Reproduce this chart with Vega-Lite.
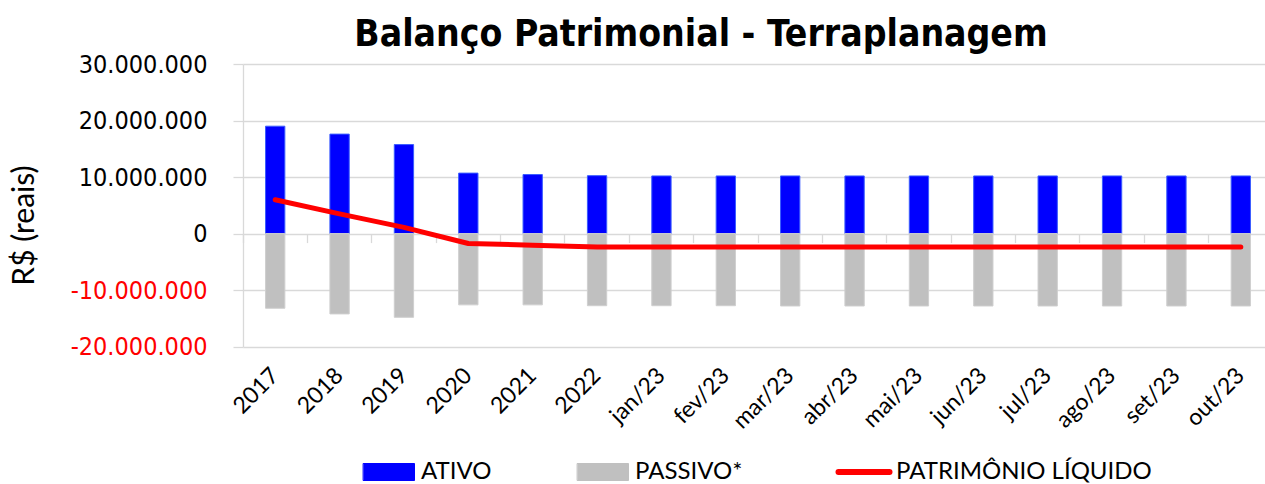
{
  "$schema": "https://vega.github.io/schema/vega-lite/v6.json",
  "width": 1022,
  "height": 282.7,
  "autosize": {"type": "none"},
  "padding": {"left": 243, "top": 64, "right": 0, "bottom": 137.3},
  "background": "white",
  "title": {
    "text": "Balanço Patrimonial - Terraplanagem",
    "font": "DejaVu Sans Condensed",
    "fontSize": 37,
    "fontWeight": "bold",
    "color": "#000000",
    "anchor": "middle",
    "frame": "group",
    "dx": -53,
    "offset": -2
  },
  "config": {
    "view": {"stroke": null},
    "locale": {
      "number": {"decimal": ",", "thousands": ".", "grouping": [3], "currency": ["R$", ""], "minus": "-"}
    },
    "legend": {
      "orient": "none",
      "legendX": 134,
      "legendY": 396,
      "padding": 0,
      "direction": "horizontal",
      "labelFont": "Lato",
      "labelFontSize": 24,
      "labelColor": "#000000",
      "labelOffset": 20,
      "labelLimit": 0,
      "columnPadding": 83,
      "symbolSize": 289
    }
  },
  "data": {
    "values": [
      {"periodo": "2017", "serie": "ATIVO", "valor": 19000000},
      {"periodo": "2018", "serie": "ATIVO", "valor": 17600000},
      {"periodo": "2019", "serie": "ATIVO", "valor": 15750000},
      {"periodo": "2020", "serie": "ATIVO", "valor": 10700000},
      {"periodo": "2021", "serie": "ATIVO", "valor": 10450000},
      {"periodo": "2022", "serie": "ATIVO", "valor": 10250000},
      {"periodo": "jan/23", "serie": "ATIVO", "valor": 10200000},
      {"periodo": "fev/23", "serie": "ATIVO", "valor": 10200000},
      {"periodo": "mar/23", "serie": "ATIVO", "valor": 10200000},
      {"periodo": "abr/23", "serie": "ATIVO", "valor": 10200000},
      {"periodo": "mai/23", "serie": "ATIVO", "valor": 10200000},
      {"periodo": "jun/23", "serie": "ATIVO", "valor": 10200000},
      {"periodo": "jul/23", "serie": "ATIVO", "valor": 10200000},
      {"periodo": "ago/23", "serie": "ATIVO", "valor": 10200000},
      {"periodo": "set/23", "serie": "ATIVO", "valor": 10200000},
      {"periodo": "out/23", "serie": "ATIVO", "valor": 10200000},
      {"periodo": "2017", "serie": "PASSIVO*", "valor": -13200000},
      {"periodo": "2018", "serie": "PASSIVO*", "valor": -14200000},
      {"periodo": "2019", "serie": "PASSIVO*", "valor": -14800000},
      {"periodo": "2020", "serie": "PASSIVO*", "valor": -12600000},
      {"periodo": "2021", "serie": "PASSIVO*", "valor": -12600000},
      {"periodo": "2022", "serie": "PASSIVO*", "valor": -12750000},
      {"periodo": "jan/23", "serie": "PASSIVO*", "valor": -12750000},
      {"periodo": "fev/23", "serie": "PASSIVO*", "valor": -12750000},
      {"periodo": "mar/23", "serie": "PASSIVO*", "valor": -12800000},
      {"periodo": "abr/23", "serie": "PASSIVO*", "valor": -12800000},
      {"periodo": "mai/23", "serie": "PASSIVO*", "valor": -12800000},
      {"periodo": "jun/23", "serie": "PASSIVO*", "valor": -12800000},
      {"periodo": "jul/23", "serie": "PASSIVO*", "valor": -12800000},
      {"periodo": "ago/23", "serie": "PASSIVO*", "valor": -12800000},
      {"periodo": "set/23", "serie": "PASSIVO*", "valor": -12800000},
      {"periodo": "out/23", "serie": "PASSIVO*", "valor": -12800000},
      {"periodo": "2017", "serie": "PATRIMÔNIO LÍQUIDO", "valor": 6000000},
      {"periodo": "2018", "serie": "PATRIMÔNIO LÍQUIDO", "valor": 3500000},
      {"periodo": "2019", "serie": "PATRIMÔNIO LÍQUIDO", "valor": 1100000},
      {"periodo": "2020", "serie": "PATRIMÔNIO LÍQUIDO", "valor": -1750000},
      {"periodo": "2021", "serie": "PATRIMÔNIO LÍQUIDO", "valor": -2050000},
      {"periodo": "2022", "serie": "PATRIMÔNIO LÍQUIDO", "valor": -2350000},
      {"periodo": "jan/23", "serie": "PATRIMÔNIO LÍQUIDO", "valor": -2350000},
      {"periodo": "fev/23", "serie": "PATRIMÔNIO LÍQUIDO", "valor": -2350000},
      {"periodo": "mar/23", "serie": "PATRIMÔNIO LÍQUIDO", "valor": -2350000},
      {"periodo": "abr/23", "serie": "PATRIMÔNIO LÍQUIDO", "valor": -2350000},
      {"periodo": "mai/23", "serie": "PATRIMÔNIO LÍQUIDO", "valor": -2350000},
      {"periodo": "jun/23", "serie": "PATRIMÔNIO LÍQUIDO", "valor": -2350000},
      {"periodo": "jul/23", "serie": "PATRIMÔNIO LÍQUIDO", "valor": -2350000},
      {"periodo": "ago/23", "serie": "PATRIMÔNIO LÍQUIDO", "valor": -2350000},
      {"periodo": "set/23", "serie": "PATRIMÔNIO LÍQUIDO", "valor": -2350000},
      {"periodo": "out/23", "serie": "PATRIMÔNIO LÍQUIDO", "valor": -2350000}
    ]
  },
  "layer": [
    {
      "transform": [{"filter": "datum.serie !== 'PATRIMÔNIO LÍQUIDO'"}],
      "mark": {"type": "bar", "width": {"band": 0.3}, "strokeWidth": 1, "opacity": 1},
      "encoding": {
        "x": {
          "field": "periodo",
          "type": "ordinal",
          "sort": ["2017", "2018", "2019", "2020", "2021", "2022", "jan/23", "fev/23", "mar/23", "abr/23", "mai/23", "jun/23", "jul/23", "ago/23", "set/23", "out/23"],
          "scale": {"range": [0, 1030], "paddingInner": 0, "paddingOuter": 0},
          "axis": {
            "orient": "bottom",
            "title": null,
            "domain": false,
            "ticks": false,
            "grid": false,
            "labelAngle": -45,
            "labelAlign": "right",
            "labelBaseline": "middle",
            "labelFont": "Lato",
            "labelFontSize": 23,
            "labelColor": "#000000",
            "labelPadding": 25,
            "labelDx": -3
          }
        },
        "y": {
          "field": "valor",
          "type": "quantitative",
          "stack": null,
          "scale": {"domain": [-20000000, 30000000], "nice": false},
          "axis": {
            "values": [-20000000, -10000000, 0, 10000000, 20000000, 30000000],
            "format": ",d",
            "title": "R$ (reais)",
            "titleFont": "Lato",
            "titleFontSize": 30,
            "titleFontWeight": "normal",
            "titleColor": "#000000",
            "titleAngle": -90,
            "titleAlign": "center",
            "titleBaseline": "bottom",
            "titleX": -204,
            "titleY": 161,
            "labelFont": "DejaVu Sans Condensed",
            "labelFontSize": 25,
            "labelColor": {"condition": {"test": "datum.value < 0", "value": "#ff0000"}, "value": "#000000"},
            "labelPadding": 26,
            "domain": true,
            "domainColor": "#d9d9d9",
            "domainWidth": 1.3,
            "ticks": true,
            "tickColor": "#d9d9d9",
            "tickSize": 10,
            "tickWidth": 1.3,
            "grid": true,
            "gridColor": "#d9d9d9",
            "gridWidth": 1.3
          }
        },
        "color": {
          "field": "serie",
          "type": "nominal",
          "scale": {"domain": ["ATIVO", "PASSIVO*", "PATRIMÔNIO LÍQUIDO"], "range": ["#0000ff", "#c0c0c0", "#ff0000"]},
          "legend": {
            "title": null,
            "symbolSize": 289,
            "encode": {
              "symbols": {
                "update": {
                  "shape": {"signal": "datum.value === 'PATRIMÔNIO LÍQUIDO' ? 'M-3,0H3' : 'M-3,-1H3V1H-3Z'"},
                  "size": {"value": 289},
                  "strokeWidth": {"signal": "datum.value === 'PATRIMÔNIO LÍQUIDO' ? 6 : 1"},
                  "fill": {"signal": "datum.value === 'ATIVO' ? '#0000ff' : datum.value === 'PASSIVO*' ? '#c0c0c0' : 'transparent'"},
                  "stroke": {"signal": "datum.value === 'ATIVO' ? '#3a5cff' : datum.value === 'PASSIVO*' ? '#c8c8c8' : '#ff0000'"},
                  "strokeCap": {"value": "round"},
                  "opacity": {"value": 1}
                }
              }
            }
          }
        },
        "stroke": {
          "condition": {"test": "datum.serie === 'ATIVO'", "value": "#3a5cff"},
          "value": "#cfcfcf"
        }
      }
    },
    {
      "transform": [{"filter": "datum.serie === 'PATRIMÔNIO LÍQUIDO'"}],
      "mark": {"type": "line", "strokeWidth": 5, "strokeCap": "round", "strokeJoin": "round"},
      "encoding": {
        "x": {
          "field": "periodo",
          "type": "ordinal",
          "sort": ["2017", "2018", "2019", "2020", "2021", "2022", "jan/23", "fev/23", "mar/23", "abr/23", "mai/23", "jun/23", "jul/23", "ago/23", "set/23", "out/23"],
          "axis": {
            "orient": "bottom",
            "offset": -113.1,
            "title": null,
            "labels": false,
            "domain": false,
            "grid": false,
            "ticks": true,
            "tickSize": 9,
            "tickColor": "#d9d9d9",
            "tickWidth": 1.3,
            "bandPosition": 0
          }
        },
        "y": {"field": "valor", "type": "quantitative"},
        "color": {
          "field": "serie",
          "type": "nominal",
          "legend": {
            "title": null,
            "symbolSize": 289,
            "encode": {
              "symbols": {
                "update": {
                  "shape": {"signal": "datum.value === 'PATRIMÔNIO LÍQUIDO' ? 'M-3,0H3' : 'M-3,-1H3V1H-3Z'"},
                  "size": {"value": 289},
                  "strokeWidth": {"signal": "datum.value === 'PATRIMÔNIO LÍQUIDO' ? 6 : 1"},
                  "fill": {"signal": "datum.value === 'ATIVO' ? '#0000ff' : datum.value === 'PASSIVO*' ? '#c0c0c0' : 'transparent'"},
                  "stroke": {"signal": "datum.value === 'ATIVO' ? '#3a5cff' : datum.value === 'PASSIVO*' ? '#c8c8c8' : '#ff0000'"},
                  "strokeCap": {"value": "round"},
                  "opacity": {"value": 1}
                }
              }
            }
          }
        }
      }
    }
  ],
  "resolve": {"axis": {"x": "independent"}}
}
